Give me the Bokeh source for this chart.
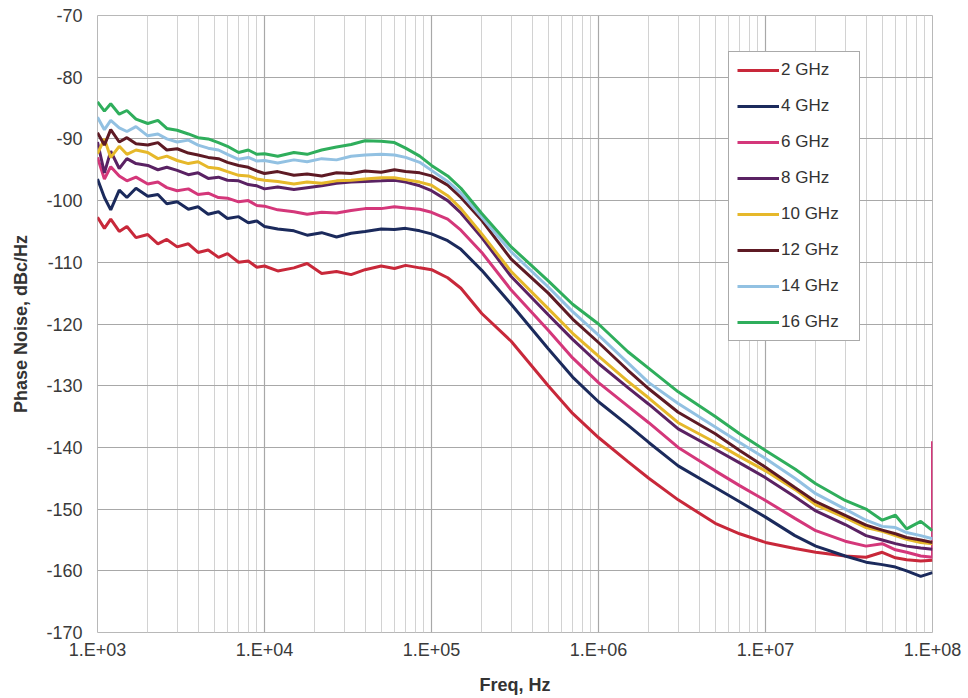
from bokeh.plotting import figure
from bokeh.models import FixedTicker, CustomJSTickFormatter, Legend, LegendItem, Range1d
from bokeh.embed import file_html
from bokeh.resources import INLINE

# ---------------- data ----------------
freq = [1.0e3, 1.1e3, 1.2e3, 1.35e3, 1.5e3, 1.7e3, 2.0e3, 2.3e3, 2.6e3, 3.0e3,
        3.5e3, 4.0e3, 4.6e3, 5.3e3, 6.0e3, 7.0e3, 8.0e3, 9.0e3, 1.0e4, 1.2e4,
        1.5e4, 1.8e4, 2.2e4, 2.7e4, 3.3e4, 4.0e4, 5.0e4, 6.0e4, 7.0e4, 8.5e4,
        1.0e5, 1.25e5, 1.5e5, 2.0e5, 3.0e5, 5.0e5, 7.0e5, 1.0e6, 1.5e6, 2.0e6,
        3.0e6, 5.0e6, 7.0e6, 1.0e7, 1.5e7, 2.0e7, 3.0e7, 4.0e7, 5.0e7, 6.0e7,
        7.0e7, 8.5e7, 1.0e8]

pn_2ghz = [-102.7, -104.5, -103.0, -105.0, -104.2, -106.0, -105.5, -107.0, -106.3, -107.5,
           -107.0, -108.4, -108.0, -109.2, -108.6, -110.0, -109.8, -110.8, -110.6, -111.4,
           -110.9, -110.2, -111.8, -111.5, -112.0, -111.2, -110.6, -111.0, -110.5, -110.9,
           -111.2, -112.5, -114.2, -118.3, -122.8, -130.0, -134.5, -138.4, -142.3, -145.0,
           -148.5, -152.3, -154.0, -155.4, -156.4, -157.0, -157.6, -157.8, -157.0, -157.9,
           -158.2, -158.4, -158.3]

pn_4ghz = [-96.5, -99.5, -101.5, -98.3, -99.5, -98.0, -99.3, -99.0, -100.5, -100.2,
           -101.4, -101.0, -102.2, -101.8, -102.9, -102.6, -103.6, -103.3, -104.2, -104.6,
           -104.9, -105.6, -105.2, -105.9, -105.3, -105.0, -104.6, -104.7, -104.5, -104.9,
           -105.4, -106.5, -107.9, -111.3, -116.8, -124.0, -128.6, -132.6, -136.4, -139.2,
           -143.0, -146.5, -148.8, -151.3, -154.3, -156.0, -157.6, -158.6, -159.0, -159.4,
           -160.0, -160.9, -160.3]

freq_6ghz = freq + [1.0e8]
pn_6ghz = [-93.0, -96.5, -94.5, -96.0, -96.8, -96.2, -97.3, -97.0, -97.9, -98.4,
           -98.1, -99.0, -98.8, -99.5, -99.6, -100.2, -100.0, -100.8, -100.9, -101.5,
           -101.8, -102.2, -101.9, -102.0, -101.6, -101.3, -101.3, -101.0, -101.2, -101.4,
           -101.9, -103.0, -104.8, -108.4, -114.5, -121.0, -125.5, -129.5, -133.3, -136.0,
           -140.0, -143.8, -146.2, -148.6, -151.5, -153.5, -155.2, -156.0, -155.6, -156.6,
           -157.0, -157.6, -157.8, -139.0]

pn_8ghz = [-90.5, -95.5, -92.0, -94.8, -93.2, -94.0, -94.3, -95.0, -94.6, -95.1,
           -95.8, -95.5, -96.4, -96.2, -96.7, -96.8, -97.4, -97.6, -98.1, -97.8,
           -98.2, -97.9, -97.6, -97.2, -97.0, -96.9, -96.8, -96.7, -97.0, -97.6,
           -98.4, -100.0, -102.0, -106.0, -112.3, -118.5, -122.5, -126.4, -130.3, -133.0,
           -137.0, -140.3, -142.5, -144.9, -148.0, -150.3, -152.5, -154.3, -155.0, -155.6,
           -156.0, -156.3, -156.5]

pn_10ghz = [-92.4, -90.0, -93.0, -91.2, -92.5, -91.8, -92.2, -93.2, -92.8, -93.5,
            -94.0, -93.7, -94.6, -94.8, -95.3, -95.9, -96.0, -96.5, -96.7, -96.9,
            -97.3, -97.0, -97.2, -96.8, -96.7, -96.5, -96.3, -96.3, -96.6, -97.0,
            -97.5, -99.2, -101.3, -105.4, -111.5, -117.5, -121.5, -125.2, -129.3, -132.0,
            -136.0, -139.2, -141.5, -143.8, -146.8, -149.3, -151.4, -153.0, -153.6, -154.3,
            -154.9, -155.4, -155.6]

pn_12ghz = [-89.0, -91.0, -88.5, -90.5, -89.8, -90.8, -91.0, -90.6, -91.8, -91.6,
            -92.3, -92.6, -93.0, -93.2, -93.8, -94.3, -94.6, -95.2, -95.6, -95.3,
            -95.9, -95.7, -96.0, -95.5, -95.6, -95.2, -95.4, -95.0, -95.3, -95.5,
            -96.0, -97.5, -99.5, -103.2, -109.5, -115.0, -119.2, -123.0, -127.5, -130.5,
            -134.3, -137.8, -140.5, -143.2, -146.5, -148.8, -151.0, -152.6, -153.4, -154.0,
            -154.6, -155.0, -155.4]

pn_14ghz = [-86.5, -88.5, -87.0, -88.2, -88.8, -88.0, -89.5, -89.2, -90.0, -90.5,
            -90.2, -91.0, -91.5, -91.8, -92.5, -93.3, -93.0, -93.6, -93.5, -93.9,
            -93.4, -93.7, -93.2, -93.4, -92.8, -92.6, -92.5, -92.6, -93.0, -93.8,
            -95.1, -96.9, -98.8, -102.7, -108.3, -114.0, -118.0, -121.8, -126.3, -129.5,
            -132.9, -136.7, -139.2, -141.8, -145.0, -147.5, -150.0, -151.8, -152.8, -153.0,
            -153.8, -154.3, -154.8]

pn_16ghz = [-84.0, -85.5, -84.3, -86.0, -85.4, -86.8, -87.5, -87.0, -88.3, -88.6,
            -89.2, -89.8, -90.0, -90.6, -91.2, -92.2, -91.8, -92.5, -92.4, -92.8,
            -92.2, -92.5, -91.8, -91.3, -90.9, -90.3, -90.4, -90.6, -91.5, -92.8,
            -94.3, -96.0, -98.0, -102.1, -107.5, -113.0, -116.8, -120.0, -124.5, -127.2,
            -131.0, -135.0, -137.8, -140.5, -143.5, -145.9, -148.6, -150.0, -151.8, -151.0,
            -153.2, -152.0, -153.5]

labels = ["2 GHz", "4 GHz", "6 GHz", "8 GHz", "10 GHz", "12 GHz", "14 GHz", "16 GHz"]
x_tick_values = [1e3, 1e4, 1e5, 1e6, 1e7, 1e8]
y_tick_values = [-170, -160, -150, -140, -130, -120, -110, -100, -90, -80, -70]

xs = [freq, freq, freq_6ghz, freq, freq, freq, freq, freq]
ys = [pn_2ghz, pn_4ghz, pn_6ghz, pn_8ghz, pn_10ghz, pn_12ghz, pn_14ghz, pn_16ghz]
colors = ["#c8283a", "#1b2a5c", "#d4377a", "#5a2263", "#e6b82a", "#5e1a24", "#92c1e2", "#2fae5c"]

FONT = "Liberation Sans"

p = figure(width=968, height=698, x_axis_type="log",
           x_range=Range1d(1e3, 1e8), y_range=Range1d(-170, -70),
           output_backend="svg", toolbar_location=None,
           min_border_left=97, min_border_right=36, min_border_top=15, min_border_bottom=66)

p.outline_line_color = "#b8b8b8"
p.background_fill_color = "white"
p.border_fill_color = "white"

minor = [m * d for d in [1e3, 1e4, 1e5, 1e6, 1e7] for m in range(2, 10)]
p.xaxis.ticker = FixedTicker(ticks=x_tick_values, minor_ticks=minor)
p.yaxis.ticker = FixedTicker(ticks=y_tick_values)
p.xaxis.formatter = CustomJSTickFormatter(
    code="return '1.E+' + String(Math.round(Math.log10(tick))).padStart(2, '0');")
p.yaxis.formatter = CustomJSTickFormatter(code="return String(Math.round(tick));")

for ax in (p.xaxis[0], p.yaxis[0]):
    ax.axis_line_color = None
    ax.major_tick_line_color = None
    ax.minor_tick_line_color = None
    ax.major_tick_out = 0
    ax.minor_tick_out = 0
    ax.major_label_text_font = FONT
    ax.major_label_text_font_size = "18px"
    ax.major_label_text_color = "#3a3a3a"
    ax.axis_label_text_font = FONT
    ax.axis_label_text_font_size = "18px"
    ax.axis_label_text_font_style = "bold"
    ax.axis_label_text_color = "#333333"

p.xaxis.axis_label = "Freq, Hz"
p.yaxis.axis_label = "Phase Noise, dBc/Hz"
p.xaxis.major_label_standoff = 7
p.yaxis.major_label_standoff = 15
p.xaxis.axis_label_standoff = 12
p.yaxis.axis_label_standoff = 12

p.xgrid.grid_line_color = "#a8a8a8"
p.xgrid.minor_grid_line_color = "#d2d2d2"
p.xgrid.grid_line_width = 1.2
p.ygrid.grid_line_color = "#a8a8a8"
p.ygrid.grid_line_width = 1.2

items = []
for x, y, c, lab in zip(xs, ys, colors, labels):
    r = p.line(x, y, line_color=c, line_width=3)
    items.append(LegendItem(label=lab, renderers=[r]))

legend = Legend(items=items, location=(631, 291))
legend.border_line_color = "#555555"
legend.border_line_width = 1.5
legend.background_fill_color = "white"
legend.background_fill_alpha = 1.0
legend.label_text_font = FONT
legend.label_text_font_size = "17px"
legend.label_text_color = "#333333"
legend.glyph_width = 42
legend.glyph_height = 20
legend.label_height = 20
legend.label_standoff = 2
legend.label_width = 70
legend.spacing = 16
legend.padding = 8
legend.margin = 0
p.add_layout(legend)

open("out.html", "w").write(file_html(p, INLINE))
